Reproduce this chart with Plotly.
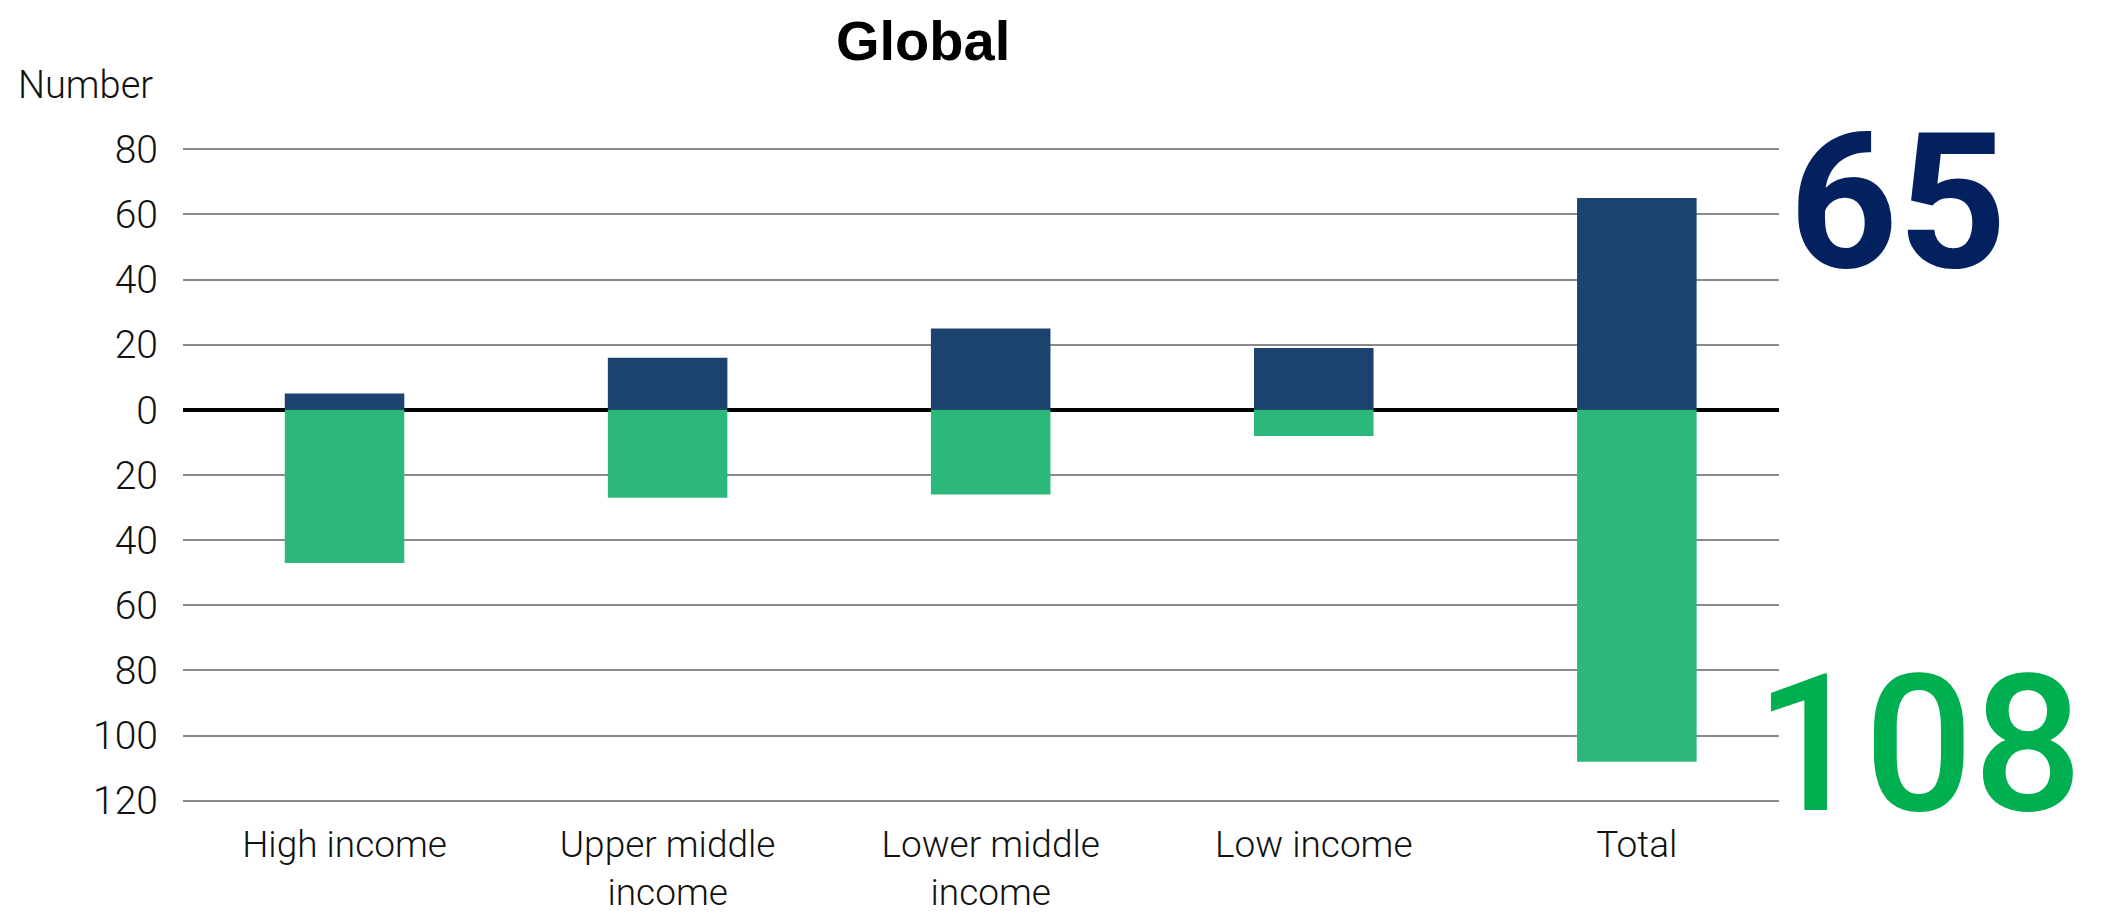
import plotly.graph_objects as go

# Data
categories = ["High income", "Upper middle<br>income", "Lower middle<br>income", "Low income", "Total"]
positive = [5, 16, 25, 19, 65]
negative = [-47, -27, -26, -8, -108]

tick_vals = [80, 60, 40, 20, 0, -20, -40, -60, -80, -100, -120]
tick_text = [str(abs(v)) for v in tick_vals]

total_pos_label = "65"
total_neg_label = "108"

_NAVY = "#1C436F"
_GREEN = "#2CB87B"
_GRID = "#8A8A8A"
_TEXT_FONT = "Roboto, sans-serif"

fig = go.Figure()
fig.add_trace(go.Bar(x=categories, y=positive, marker=dict(color=_NAVY, line_width=0),
                     width=0.37, name="Positive"))
fig.add_trace(go.Bar(x=categories, y=negative, marker=dict(color=_GREEN, line_width=0),
                     width=0.37, name="Negative"))

fig.update_layout(
    width=2103,
    height=917,
    barmode="relative",
    showlegend=False,
    plot_bgcolor="white",
    paper_bgcolor="white",
    margin=dict(l=175, r=332, t=138, b=121),
    font=dict(family=_TEXT_FONT, color="#111111"),
)
fig.update_xaxes(
    range=[-0.5, 4.44],
    automargin=False,
    showgrid=False,
    showline=False,
    ticks="",
    ticklabelstandoff=15,
    tickfont=dict(family=_TEXT_FONT, size=37, color="#111111", weight=300),
)
fig.update_yaxes(
    range=[-121, 81],
    automargin=False,
    tickvals=tick_vals,
    ticktext=tick_text,
    showgrid=True,
    gridcolor=_GRID,
    gridwidth=2,
    zeroline=True,
    zerolinecolor="black",
    zerolinewidth=3.5,
    showline=False,
    ticks="",
    ticklabelstandoff=24,
    tickfont=dict(family=_TEXT_FONT, size=39, color="#111111", weight=300),
)

# Title and axis unit label
fig.add_annotation(text="<b>Global</b>", xref="paper", yref="paper", x=(915 - 175) / 1596, y=1.0,
                   yshift=138, yanchor="top", showarrow=False, borderpad=0,
                   font=dict(family="Liberation Sans, Arial, sans-serif", size=56, color="#000000"))
fig.add_annotation(text="Number", xref="paper", yref="paper", x=(8 - 175) / 1596, xanchor="left",
                   y=1.0, yshift=138 - 53, yanchor="top", showarrow=False,
                   font=dict(family=_TEXT_FONT, size=38, color="#111111", weight=300))

# Big totals to the right of the Total bar
fig.add_annotation(text=total_pos_label, x=4, y=positive[-1], xshift=150, xanchor="left",
                   yshift=-4, yanchor="middle", showarrow=False,
                   font=dict(family=_TEXT_FONT, size=190, color="#03215F", weight=700))
fig.add_annotation(text=total_neg_label, x=4, y=negative[-1], xshift=116, xanchor="left",
                   yshift=17, yanchor="middle", showarrow=False,
                   font=dict(family=_TEXT_FONT, size=192, color="#00AF50", weight=500))

fig.write_html("out.html")
